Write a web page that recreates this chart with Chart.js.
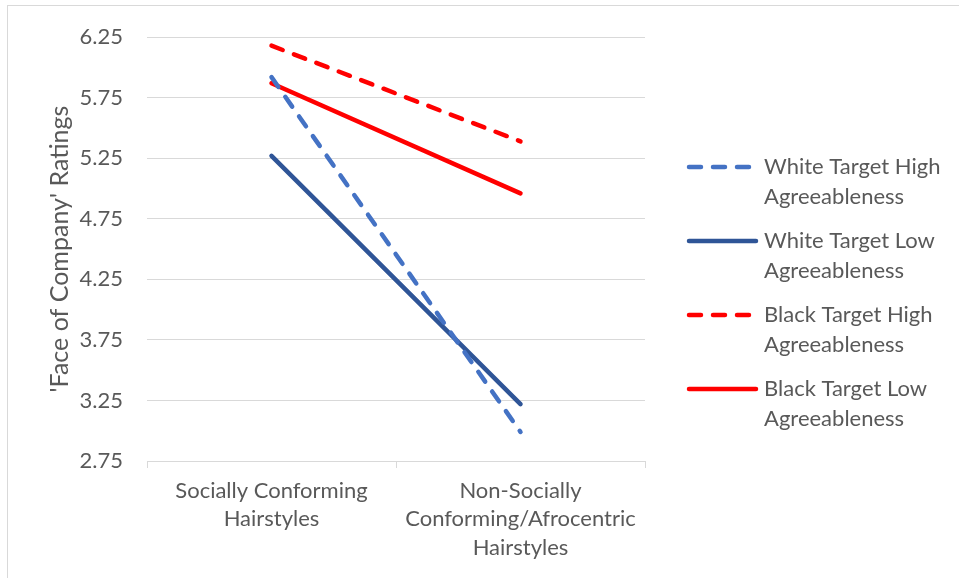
<!DOCTYPE html>
<html>
<head>
<meta charset="utf-8">
<script src="https://cdn.jsdelivr.net/npm/chart.js@4.4.1/dist/chart.umd.min.js"></script>
<style>
  html, body { margin: 0; padding: 0; background: #fff; overflow: hidden; }
  #wrap { position: relative; width: 959px; height: 578px; }
  #frame { position: absolute; left: 7px; top: 5px; width: 2000px; height: 2000px;
           border-left: 1px solid #d9d9d9; border-top: 1px solid #d9d9d9; pointer-events: none; }
</style>
</head>
<body>
<div id="wrap">
  <canvas id="chart" width="959" height="578"></canvas>
  <div id="frame"></div>
</div>
<script>
// Hairstyle categories (multi-line axis labels)
const categories = [
  ['Socially Conforming', 'Hairstyles'],
  ['Non-Socially', 'Conforming/Afrocentric', 'Hairstyles']
];

// Mean ratings per condition
const whiteHigh = [5.92, 2.99];
const whiteLow  = [5.27, 3.22];
const blackHigh = [6.18, 5.39];
const blackLow  = [5.87, 4.96];

// Series names as shown in the legend (two lines each)
const seriesNames = [
  ['White Target High', 'Agreeableness'],
  ['White Target Low', 'Agreeableness'],
  ['Black Target High', 'Agreeableness'],
  ['Black Target Low', 'Agreeableness']
];

// Value axis ticks
const yTicks = [2.75, 3.25, 3.75, 4.25, 4.75, 5.25, 5.75, 6.25];

const FONT = 'Lato, "Open Sans", sans-serif';
const FSIZE = 22;
const TEXT = '#595959';
const GRID = '#d9d9d9';
const DASH = [12, 12];
const PAD_LEFT = 41;

function series(i, values, color, dashed) {
  return {
    label: seriesNames[i].join(' '),
    legendLines: seriesNames[i],
    data: values,
    borderColor: color,
    backgroundColor: color,
    borderWidth: 4.5,
    borderCapStyle: 'round',
    borderJoinStyle: 'round',
    borderDash: dashed ? DASH : [],
    pointRadius: 0,
    pointHoverRadius: 0,
    fill: false,
    tension: 0
  };
}

// Legend on the right with wrapped two-line entries
const sideLegend = {
  id: 'sideLegend',
  afterDraw(chart) {
    const ctx = chart.ctx;
    const x0 = 687, x1 = 758, tx = 764;
    const firstY = 167, lineGap = 29.5, entryGap = 74;
    ctx.save();
    chart.data.datasets.forEach((ds, i) => {
      const y = firstY + i * entryGap;
      ctx.beginPath();
      ctx.strokeStyle = ds.borderColor;
      ctx.lineWidth = ds.borderWidth;
      ctx.lineCap = 'round';
      ctx.setLineDash(ds.borderDash || []);
      ctx.moveTo(x0 + 2, y);
      ctx.lineTo(x1 - 2, y);
      ctx.stroke();
      ctx.setLineDash([]);
      ctx.fillStyle = TEXT;
      ctx.font = FSIZE + 'px ' + FONT;
      ctx.textAlign = 'left';
      ctx.textBaseline = 'middle';
      ds.legendLines.forEach((t, k) => ctx.fillText(t, tx, y + k * lineGap));
    });
    ctx.restore();
  }
};

new Chart(document.getElementById('chart'), {
  type: 'line',
  data: {
    labels: categories,
    datasets: [
      series(0, whiteHigh, '#4472c4', true),
      series(1, whiteLow, '#2f5597', false),
      series(2, blackHigh, '#ff0000', true),
      series(3, blackLow, '#ff0000', false)
    ]
  },
  options: {
    responsive: false,
    animation: false,
    layout: { padding: { left: PAD_LEFT, top: 34, right: 314, bottom: 0 } },
    plugins: {
      legend: { display: false },
      tooltip: { enabled: false }
    },
    scales: {
      x: {
        type: 'category',
        offset: true,
        grid: { display: true, offset: true, drawOnChartArea: false, drawTicks: true,
                tickLength: 7, color: GRID, lineWidth: 1 },
        border: { display: true, color: GRID, width: 1 },
        ticks: { color: TEXT, padding: 8, maxRotation: 0, autoSkip: false,
                 font: { family: FONT, size: FSIZE, lineHeight: 1.31 } },
        afterFit(scale) { scale.height = 117; }
      },
      y: {
        min: 2.75,
        max: 6.25,
        grid: { color: GRID, lineWidth: 1, drawTicks: false },
        border: { display: false },
        ticks: { color: TEXT, padding: 24, font: { family: FONT, size: FSIZE },
                 callback: v => Number(v).toFixed(2) },
        afterBuildTicks(scale) { scale.ticks = yTicks.map(v => ({ value: v })); },
        afterFit(scale) { scale.width = 147 - PAD_LEFT; },
        title: { display: true, text: "'Face of Company' Ratings", color: TEXT,
                 padding: { top: 4, bottom: 0 }, font: { family: FONT, size: 25 } }
      }
    }
  },
  plugins: [sideLegend]
});
</script>
</body>
</html>
